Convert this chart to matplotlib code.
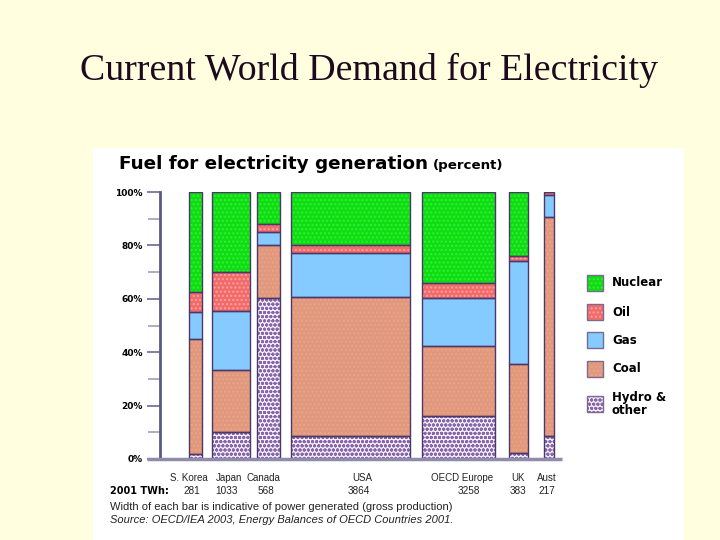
import matplotlib
matplotlib.use("Agg")
import matplotlib.pyplot as plt
from matplotlib.patches import Rectangle
import numpy as np

# ---------------- data ----------------
countries = ["S. Korea", "Japan", "Canada", "USA", "OECD Europe", "UK", "Aust"]
twh = [281, 1033, 568, 3864, 3258, 383, 217]
fuels = ["Hydro &\nother", "Coal", "Gas", "Oil", "Nuclear"]
hydro   = [2.0, 10.1, 60.2, 8.5, 16.0, 2.2, 8.5]
coal    = [42.9, 23.1, 19.8, 52.3, 26.5, 33.3, 82.0]
gas     = [10.1, 22.3, 5.0, 16.2, 17.7, 38.8, 8.4]
oil     = [7.7, 14.7, 2.9, 3.0, 5.6, 1.7, 1.1]
nuclear = [37.3, 29.8, 12.1, 20.0, 34.2, 24.0, 0.0]

# ---------------- layout (pixels of drawing) ----------------
bar_px = [13, 38, 23, 119, 73, 19, 10]
gap_px = [10, 7, 11, 12, 14, 16]
name_dx = [-7, -2, -5, 12, 4, -1, -2]
num_dx = [-4, -4, -3, 8, 10, 0, -2]
first_offset = 29
axis_len = 402

W, H = 720, 540
fig = plt.figure(figsize=(7.2, 5.4), dpi=100)
fig.patch.set_facecolor("#FFFFDF")

# white panel
fig.patches.append(Rectangle((93 / W, 0), 591 / W, (540 - 148) / H,
                             transform=fig.transFigure, facecolor="white",
                             edgecolor="none", zorder=-5))

fig.text(369 / W, 1 - 70 / H, "Current World Demand for Electricity",
         ha="center", va="center", family="Liberation Serif", fontsize=27.3,
         color="#1E0A1E")

ax = fig.add_axes([160 / W, (540 - 459) / H, axis_len / W, (459 - 192) / H])
ax.set_facecolor("none")
ax.set_xlim(0, axis_len)
ax.set_ylim(0, 100)

styles = {
    "Nuclear": dict(fc="#10DD10", hatch="....", hc="#30EE40"),
    "Oil": dict(fc="#F26B6B", hatch="....", hc="#FFA0A0"),
    "Gas": dict(fc="#86CBFF", hatch=None, hc="#86CBFF"),
    "Coal": dict(fc="#E2987C", hatch="....", hc="#E8A58A"),
    "Hydro &\nother": dict(fc="#F6F0FA", hatch="oooo", hc="#8866AA"),
}
edge = "#4A3868"

lefts = []
x = first_offset
for i, w in enumerate(bar_px):
    lefts.append(x)
    x += w + (gap_px[i] if i < len(gap_px) else 0)

series = [hydro, coal, gas, oil, nuclear]

bottoms = np.zeros(len(countries))
for name, vals in zip(fuels, series):
    st = styles[name]
    vals = np.array(vals)
    ax.bar(lefts, vals, width=bar_px, bottom=bottoms, align="edge",
           color=st["fc"], hatch=st["hatch"], edgecolor=st["hc"],
           linewidth=0, zorder=2)
    ax.bar(lefts, vals, width=bar_px, bottom=bottoms, align="edge",
           fill=False, edgecolor=edge, linewidth=1.0, zorder=3)
    bottoms += vals

# axis styling
for s in ["top", "right", "bottom"]:
    ax.spines[s].set_visible(False)
ax.spines["left"].set_color("#5A5A82")
ax.spines["left"].set_linewidth(2)
ax.set_yticks([0, 20, 40, 60, 80, 100])
ax.set_yticklabels(["0%", "20%", "40%", "60%", "80%", "100%"],
                   family="DejaVu Sans", fontweight="bold", fontsize=6.5)
ax.set_yticks([10, 30, 50, 70, 90], minor=True)
ax.tick_params(axis="y", which="major", length=9.4, width=1.2, color="#6A6A90", pad=3)
ax.tick_params(axis="y", which="minor", length=9, width=1.2, color="#A0A0B8")
ax.set_xticks([])
ax.plot([-13, axis_len], [0, 0], color="#8E8CAA", lw=2.5, clip_on=False, zorder=4,
        solid_capstyle="butt")

# heading
fig.text(119 / W, 1 - 164 / H, "Fuel for electricity generation",
         family="DejaVu Sans", fontweight="bold", fontsize=13.2, va="center",
         color="black")
fig.text(433 / W, 1 - 165 / H, "(percent)", family="DejaVu Sans",
         fontweight="bold", fontsize=9.6, va="center", color="black")

# category labels and TWh
for l, w, c, t, dn, dt in zip(lefts, bar_px, countries, twh, name_dx, num_dx):
    xc = l + w / 2
    ax.text(xc + dn, -7.2, c, ha="center", va="center", fontsize=7.0,
            family="Liberation Sans", color="#222222", clip_on=False)
    ax.text(xc + dt, -12.0, str(t), ha="center", va="center", fontsize=7.2,
            family="Liberation Sans", color="#222222", clip_on=False)
fig.text(110 / W, 1 - 491 / H, "2001 TWh:", family="DejaVu Sans",
         fontweight="bold", fontsize=7, va="center")
fig.text(110 / W, 1 - 507 / H,
         "Width of each bar is indicative of power generated (gross production)",
         family="Liberation Sans", fontsize=8, va="center", color="#222222")
fig.text(110 / W, 1 - 520 / H,
         "Source: OECD/IEA 2003, Energy Balances of OECD Countries 2001.",
         family="Liberation Sans", style="italic", fontsize=8, va="center",
         color="#222222")

# legend
leg_names = ["Nuclear", "Oil", "Gas", "Coal", "Hydro &\nother"]
leg_y = [283, 312, 340, 369, 404]
for name, yc in zip(leg_names, leg_y):
    st = styles[name]
    x0, y0 = 587 / W, 1 - (yc + 8) / H
    fig.patches.append(Rectangle((x0, y0), 16 / W, 16 / H, transform=fig.transFigure,
                                 facecolor=st["fc"], hatch=st["hatch"],
                                 edgecolor=st["hc"], linewidth=0, zorder=2))
    fig.patches.append(Rectangle((x0, y0), 16 / W, 16 / H, transform=fig.transFigure,
                                 fill=False, edgecolor="#7A6A90", linewidth=1, zorder=3))
    fig.text(612 / W, 1 - yc / H, name, family="DejaVu Sans", fontweight="bold",
             fontsize=8.5, va="center", ha="left", linespacing=0.95)

fig.savefig("out.png", dpi=100, facecolor=fig.get_facecolor())
